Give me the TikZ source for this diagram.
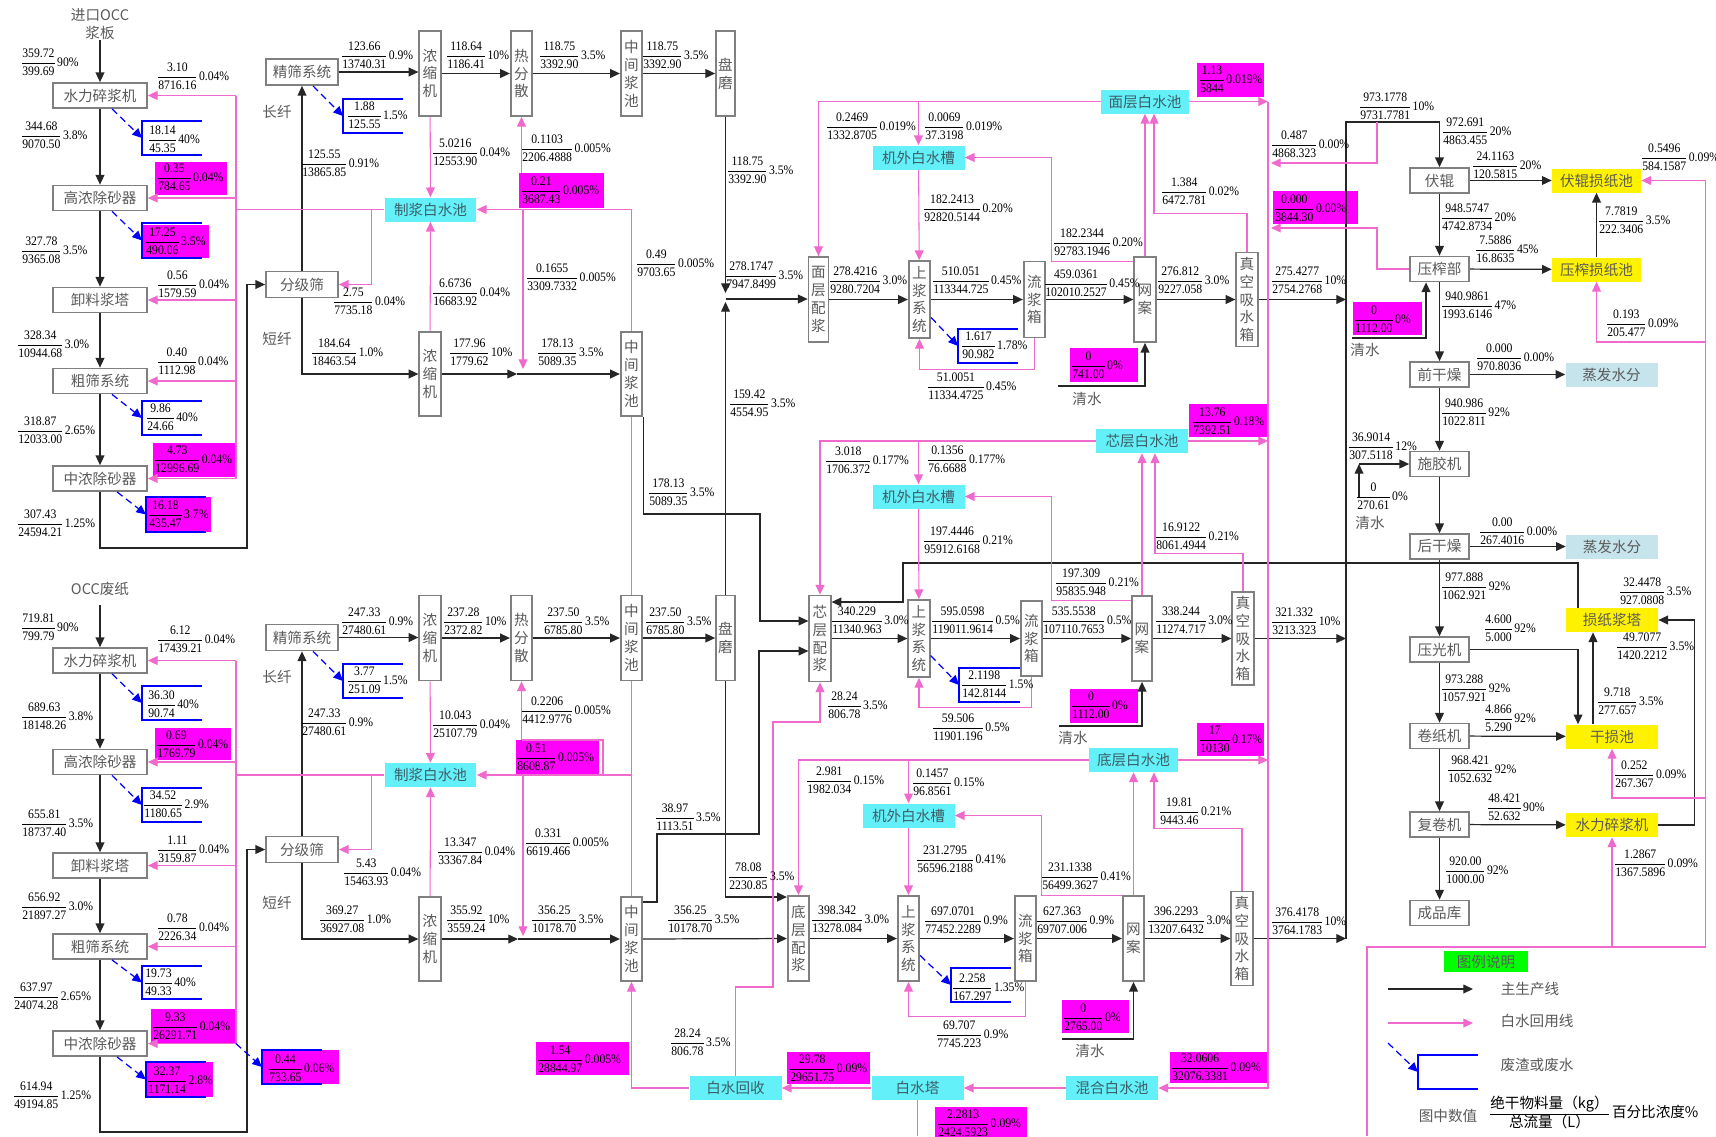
\documentclass[tikz,border=0pt]{standalone}
\usepackage{fontspec}
\setmainfont{Liberation Serif}
\newfontfamily\numfont[FakeStretch=0.9]{Liberation Serif}
\newfontfamily\cjkfont{Noto Sans CJK SC}
\usetikzlibrary{arrows.meta,calc}
\setlength{\arrayrulewidth}{0.5pt}
\definecolor{boxgray}{RGB}{128,128,128}
\definecolor{txtgray}{RGB}{90,90,90}
\definecolor{pooltxt}{RGB}{60,95,105}
\definecolor{poolcyan}{RGB}{100,240,248}
\definecolor{wpink}{RGB}{240,105,205}
\definecolor{wastemag}{RGB}{255,0,255}
\definecolor{evapblue}{RGB}{198,228,236}
\definecolor{lggreen}{RGB}{0,255,0}
\newcommand{\zh}{\cjkfont\fontsize{8.3}{10.2}\selectfont}
\newcounter{fcnt}
% 分数标注：位置、绝干物料量、总流量、浓度
\newcommand{\frl}[4]{\stepcounter{fcnt}%
  \node[frac] (fr\thefcnt) at (#1) {\begin{tabular}{@{}c@{}}#2\\\hline #3\end{tabular}\hspace{1.5pt}#4\%};}
\newcommand{\magbox}[2]{\fill[wastemag] (#1) rectangle (#2);}
\newcommand{\wbox}[5]{%
  \draw[wastebox] (#4,#3) -- (#2,#3) -- (#2,#5) -- (#4,#5);
  \coordinate (#1) at (#2,{(#3+#5)/2});}
\tikzset{
  basebox/.style={draw=boxgray, line width=1pt, fill=white, inner sep=0pt, font=\zh, text=txtgray},
  procbox/.style={basebox, minimum width=1.88cm, minimum height=0.5cm},
  sproc/.style={basebox, minimum width=1.44cm, minimum height=0.52cm},
  rproc/.style={basebox, minimum width=1.18cm, minimum height=0.5cm},
  vproc/.style={basebox, minimum width=0.43cm, align=center},
  pool/.style={fill=poolcyan, inner sep=0pt, minimum width=1.84cm, minimum height=0.48cm, font=\zh, text=pooltxt},
  szpool/.style={pool, fill=yellow, text=txtgray},
  evap/.style={pool, fill=evapblue, text=txtgray},
  lgbox/.style={fill=lggreen, inner sep=0pt, minimum width=1.68cm, minimum height=0.42cm, font=\zh, text=txtgray},
  txt/.style={inner sep=0pt, font=\zh, text=txtgray},
  frac/.style={anchor=west, inner sep=0pt, font=\numfont\fontsize{7.4}{9.6}\selectfont},
  main/.style={draw=black!85, line width=0.7pt, -{Triangle[length=5.5pt,width=5pt]}},
  wline/.style={draw=wpink, line width=0.6pt, -{Triangle[length=5.5pt,width=5pt]}},
  wasteline/.style={draw=blue, line width=0.7pt, dash pattern=on 4pt off 2.5pt, -{Triangle[length=5.5pt,width=5pt]}},
  wastebox/.style={draw=blue, line width=1.1pt},
}

\begin{document}
\begin{tikzpicture}[x=0.02cm, y=-0.02cm]
  \useasboundingbox (0,0) rectangle (1716,1136);
  \fill[white] (0,0) rectangle (1716,1136);

  % ---------------- 品红底色 ----------------
  \magbox{155,162}{227,195}
  \magbox{142,225}{209,258}
  \magbox{153,443}{237,477}
  \magbox{146,497}{211,532}
  \magbox{519,173}{604,208}
  \magbox{1197,63}{1264,97}
  \magbox{1273,191}{1358,224}
  \magbox{1353,302}{1422,335}
  \magbox{1070,348}{1138,382}
  \magbox{1189,404}{1267,437}
  \magbox{1070,689}{1138,723}
  \magbox{1197,723}{1264,756}
  \magbox{155,728}{231,760}
  \magbox{516,740}{599,774}
  \magbox{151,1009}{235,1043}
  \magbox{146,1062}{213,1097}
  \magbox{262,1050}{339,1084}
  \magbox{536,1042}{629,1075}
  \magbox{787,1052}{870,1084}
  \magbox{1062,1000}{1129,1033}
  \magbox{1170,1052}{1267,1083}
  \magbox{935,1107}{1027,1140}

  % ---------------- 制浆线一 ----------------
  \node[txt, align=center] (src1) at (100,24) {进口OCC\\浆板};
  \node[procbox] (slj1) at (100,95.5) {水力碎浆机};
  \node[procbox] (gn1) at (100,198) {高浓除砂器};
  \node[procbox] (xl1) at (100,300) {卸料浆塔};
  \node[procbox] (cs1) at (100,381) {粗筛系统};
  \node[procbox] (zn1) at (100,478.5) {中浓除砂器};
  \node[sproc] (jsx1) at (302,72) {精筛系统};
  \node[sproc] (fjs1) at (302,284.5) {分级筛};
  \node[txt] (cx1) at (277,112) {长纤};
  \node[txt] (dx1) at (277,339) {短纤};
  \node[vproc, minimum height=1.7cm] (nsj1a) at (430,73.5) {浓\\缩\\机};
  \node[vproc, minimum height=1.7cm] (rfs1) at (521.5,73.5) {热\\分\\散};
  \node[vproc, minimum height=1.7cm] (zjc1a) at (631.5,73.5) {中\\间\\浆\\池};
  \node[vproc, minimum height=1.7cm, minimum width=0.38cm] (pm1) at (725.5,73.5) {盘\\磨};
  \node[vproc, minimum height=1.68cm] (nsj1b) at (430,374) {浓\\缩\\机};
  \node[vproc, minimum height=1.68cm] (zjc1b) at (631.5,374) {中\\间\\浆\\池};
  \node[pool] (zjb1) at (430.5,209.5) {制浆白水池};

  % ---------------- 制浆线二 ----------------
  \node[txt] (src2) at (100,589) {OCC废纸};
  \node[procbox] (slj2) at (100,660.5) {水力碎浆机};
  \node[procbox] (gn2) at (100,762) {高浓除砂器};
  \node[procbox] (xl2) at (100,865.5) {卸料浆塔};
  \node[procbox] (cs2) at (100,946.5) {粗筛系统};
  \node[procbox] (zn2) at (100,1043.5) {中浓除砂器};
  \node[sproc] (jsx2) at (302,637.5) {精筛系统};
  \node[sproc] (fjs2) at (302,849.5) {分级筛};
  \node[txt] (cx2) at (277,677) {长纤};
  \node[txt] (dx2) at (277,903) {短纤};
  \node[vproc, minimum height=1.7cm] (nsj2a) at (430,638) {浓\\缩\\机};
  \node[vproc, minimum height=1.7cm] (rfs2) at (521.5,638) {热\\分\\散};
  \node[vproc, minimum height=1.7cm] (zjc2a) at (631.5,638) {中\\间\\浆\\池};
  \node[vproc, minimum height=1.7cm, minimum width=0.38cm] (pm2) at (725.5,638) {盘\\磨};
  \node[vproc, minimum height=1.68cm] (nsj2b) at (430,939) {浓\\缩\\机};
  \node[vproc, minimum height=1.68cm] (zjc2b) at (631.5,939) {中\\间\\浆\\池};
  \node[pool] (zjb2) at (430.5,775) {制浆白水池};

  % ---------------- 抄造三层 ----------------
  \node[vproc, minimum height=1.7cm, minimum width=0.4cm] (mcp) at (818.5,299.5) {面\\层\\配\\浆};
  \node[vproc, minimum height=1.54cm] (sj1) at (919.5,299.5) {上\\浆\\系\\统};
  \node[vproc, minimum height=1.52cm] (lj1) at (1034.5,299.5) {流\\浆\\箱};
  \node[vproc, minimum height=1.7cm] (wa1) at (1145,299.5) {网\\案};
  \node[vproc, minimum height=1.88cm] (zk1) at (1247,299.5) {真\\空\\吸\\水\\箱};
  \node[pool, minimum width=1.76cm] (mbc) at (1145,101.5) {面层白水池};
  \node[pool] (jwc1) at (918.5,157.5) {机外白水槽};

  \node[vproc, minimum height=1.72cm] (xcp) at (820,638.5) {芯\\层\\配\\浆};
  \node[vproc, minimum height=1.54cm] (sj2) at (919,638.5) {上\\浆\\系\\统};
  \node[vproc, minimum height=1.5cm] (lj2) at (1031.5,638.5) {流\\浆\\箱};
  \node[vproc, minimum height=1.7cm, minimum width=0.4cm] (wa2) at (1142,638.5) {网\\案};
  \node[vproc, minimum height=1.86cm] (zk2) at (1243,638.5) {真\\空\\吸\\水\\箱};
  \node[pool] (xbc) at (1142,441) {芯层白水池};
  \node[pool] (jwc2) at (918.5,496.5) {机外白水槽};

  \node[vproc, minimum height=1.7cm] (dcp) at (798.5,938.5) {底\\层\\配\\浆};
  \node[vproc, minimum height=1.7cm] (sj3) at (908.5,938.5) {上\\浆\\系\\统};
  \node[vproc, minimum height=1.7cm] (lj3) at (1025.5,938.5) {流\\浆\\箱};
  \node[vproc, minimum height=1.7cm] (wa3) at (1133.5,938.5) {网\\案};
  \node[vproc, minimum height=1.88cm] (zk3) at (1242,938.5) {真\\空\\吸\\水\\箱};
  \node[pool, minimum width=1.78cm] (dbc) at (1133.5,760) {底层白水池};
  \node[pool] (jwc3) at (908.5,815.5) {机外白水槽};

  \node[pool] (hhc) at (1112,1088) {混合白水池};
  \node[pool] (bst) at (917.5,1088) {白水塔};
  \node[pool] (bsh) at (735.5,1088) {白水回收};

  % ---------------- 压榨干燥 ----------------
  \node[rproc] (fg) at (1439.5,180.5) {伏辊};
  \node[rproc] (yzb) at (1439.5,269) {压榨部};
  \node[rproc] (qgz) at (1439.5,374.5) {前干燥};
  \node[rproc] (sjj) at (1439.5,464) {施胶机};
  \node[rproc] (hgz) at (1439.5,546.5) {后干燥};
  \node[rproc] (ygj) at (1439.5,649.5) {压光机};
  \node[rproc] (jzj) at (1439.5,736) {卷纸机};
  \node[rproc] (fjj) at (1439.5,824.5) {复卷机};
  \node[rproc] (cpk) at (1439.5,913) {成品库};
  \node[szpool, minimum width=1.78cm] (fgs) at (1596.5,180.5) {伏辊损纸池};
  \node[szpool, minimum width=1.78cm] (yzs) at (1596.5,269.5) {压榨损纸池};
  \node[szpool] (szj) at (1612,620) {损纸浆塔};
  \node[szpool] (gsc) at (1612,736.5) {干损池};
  \node[szpool] (slj3) at (1612,825) {水力碎浆机};
  \node[evap] (zf1) at (1611.5,374.5) {蒸发水分};
  \node[evap] (zf2) at (1612,546.5) {蒸发水分};
  \node[txt] (qs1) at (1087,399) {清水};
  \node[txt] (qs2) at (1073,738) {清水};
  \node[txt] (qs3) at (1090,1051) {清水};
  \node[txt] (qs4) at (1365,350) {清水};
  \node[txt] (qs5) at (1370,523) {清水};

  % ---------------- 主生产线 ----------------
  \draw[main] (src1.south) -- (slj1.north);
  \draw[main] (slj1) -- (gn1);
  \draw[main] (gn1) -- (xl1);
  \draw[main] (xl1) -- (cs1);
  \draw[main] (cs1) -- (zn1);
  \coordinate (lp1) at (247,548);
  \draw[main] (zn1.south) |- (lp1) |- (fjs1.west);
  \draw[main] (fjs1) -- (jsx1);
  \draw[main] (jsx1.east) -- (jsx1.east -| nsj1a.west);
  \draw[main] (fjs1.south) |- (nsj1b.west);
  \draw[main] (nsj1a) -- (rfs1);
  \draw[main] (rfs1) -- (zjc1a);
  \draw[main] (zjc1a) -- (pm1);
  \coordinate (mix1) at (517,374);
  \draw[main] (nsj1b) -- (mix1);
  \draw[main] (mix1) -- (zjc1b);

  \draw[main] ($(src2.south)+(0,9)$) -- (slj2.north);
  \draw[main] (slj2) -- (gn2);
  \draw[main] (gn2) -- (xl2);
  \draw[main] (xl2) -- (cs2);
  \draw[main] (cs2) -- (zn2);
  \coordinate (lp2) at (247,1132);
  \draw[main] (zn2.south) |- (lp2) |- (fjs2.west);
  \draw[main] (fjs2) -- (jsx2);
  \draw[main] (jsx2.east) -- (jsx2.east -| nsj2a.west);
  \draw[main] (fjs2.south) |- (nsj2b.west);
  \draw[main] (nsj2a) -- (rfs2);
  \draw[main] (rfs2) -- (zjc2a);
  \draw[main] (zjc2a) -- (pm2);
  \coordinate (mix2) at (518,939);
  \draw[main] (nsj2b) -- (mix2);
  \draw[main] (mix2) -- (zjc2b);

  \coordinate (pmj) at (725.5,299);
  \draw[main] (pm1) -- ($(pmj)+(0,-6)$);
  \draw[main] (pm2) -- ($(pmj)+(0,3)$);
  \draw[main] (pmj) -- (pmj -| mcp.west);
  \coordinate (k1) at (760,514);
  \draw[main] (zjc1b.south east) |- (k1) |- ($(xcp.west)+(0,-17.5)$);
  \coordinate (k2) at (657,834);
  \coordinate (k3) at (759,651);
  \draw[main] ($(zjc2b.east)+(0,-37)$) -| (k2) -| (k3) -- (k3 -| xcp.west);
  \draw[main] (pm2.south) |- ($(dcp.west)+(0,-41.5)$);
  \draw[main] (zjc2b) -- (dcp);

  \draw[main] (mcp) -- (sj1);
  \draw[main] (sj1) -- (lj1);
  \draw[main] (lj1) -- (wa1);
  \draw[main] (wa1) -- (zk1);
  \draw[main] (xcp) -- (sj2);
  \draw[main] (sj2) -- (lj2);
  \draw[main] (lj2) -- (wa2);
  \draw[main] (wa2) -- (zk2);
  \draw[main] (dcp) -- (sj3);
  \draw[main] (sj3) -- (lj3);
  \draw[main] (lj3) -- (wa3);
  \draw[main] (wa3) -- (zk3);

  \coordinate (trunkb) at (1346,939);
  \coordinate (trunkt) at (1346,122);
  \draw[main] (zk1.east) -- (zk1.east -| trunkt);
  \draw[main] (zk2.east) -- (zk2.east -| trunkt);
  \draw[main] (zk3.east) -- (zk3.east -| trunkt);
  \draw[main] (trunkb) -- (trunkt) -| (fg.north);
  \coordinate (qw1) at (1058,386);
  \draw[main] (qw1) -| (wa1.south);
  \coordinate (qw2) at (1059,726);
  \draw[main] (qw2) -| (wa2.south);
  \coordinate (qw3) at (1062,1039);
  \draw[main] (qw3) -| (wa3.south);

  \draw[main] (fg) -- (fgs);
  \draw[main] (fg) -- (yzb);
  \draw[main] (yzb) -- (yzs);
  \draw[main] (yzs) -- (fgs);
  \draw[main] (yzb) -- (qgz);
  \draw[main] (qgz) -- (zf1);
  \draw[main] (qgz) -- (sjj);
  \draw[main] (sjj) -- (hgz);
  \draw[main] (hgz) -- (zf2);
  \draw[main] (hgz) -- (ygj);
  \draw[main] (ygj) -- (jzj);
  \draw[main] (jzj) -- (fjj);
  \draw[main] (fjj) -- (cpk);
  \draw[main] (jzj) -- (gsc);
  \draw[main] (fjj) -- (slj3);
  \coordinate (qs4a) at (1352,338);
  \draw[main] (qs4a) -| ($(yzb.south)+(-13.5,0)$);
  \coordinate (qs5a) at (1359,497);
  \draw[main] (qs5a) -- (qs5a |- sjj.west);
  \draw[main] (qs5a |- sjj.west) -- (sjj.west);
  \draw[main] (ygj.east) -| ($(gsc.north)+(-34,0)$);
  \draw[main] ($(gsc.north)+(-19,0)$) -- ($(szj.south)+(-19,0)$);
  \draw[main] (slj3.east) -| ($(szj.east)+(36,0)$) -- (szj.east);
  \coordinate (sb1) at (903,563);
  \draw[main] ($(szj.north)+(-34,0)$) |- (sb1) |- ($(xcp.east)+(0,-36.5)$);

  % ---------------- 白水回用线 ----------------
  \coordinate (pl1) at (236,209.5);
  \draw[wline,-] (zjb1.west) -- (pl1);
  \draw[wline,-] (slj1.east -| pl1) -- (zn1.east -| pl1);
  \foreach \n in {slj1,gn1,xl1,cs1,zn1} \draw[wline] (\n.east -| pl1) -- (\n.east);
  \draw[wline] ($(zjb1.west)+(-13,0)$) |- (fjs1.east);
  \draw[wline] (nsj1a) -- (zjb1);
  \draw[wline] (nsj1b) -- (zjb1);
  \coordinate (m5t) at (521.5,173);
  \draw[wline] (m5t) -- (rfs1.south);
  \coordinate (m5b) at (523,209.5);
  \draw[wline] (m5b) -- ($(mix1)+(6,-5)$);
  \draw[wline] (zjc1b.north) |- (zjb1.east);
  \draw[wline,-] (zjc1b.south) -- (zjc2a.north);
  \draw[wline] (zjc2a.south) |- (zjb2.east);
  \draw[wline,-] (zjc2a.south) -- (zjc2b.north);

  \coordinate (pl2) at (236,775);
  \draw[wline,-] (zjb2.west) -- (pl2);
  \draw[wline,-] (slj2.east -| pl2) -- (zn2.east -| pl2);
  \foreach \n in {slj2,gn2,xl2,cs2,zn2} \draw[wline] (\n.east -| pl2) -- (\n.east);
  \draw[wline] ($(zjb2.west)+(-13,0)$) |- (fjs2.east);
  \draw[wline] (nsj2a) -- (zjb2);
  \draw[wline] (nsj2b) -- (zjb2);
  \coordinate (m14t) at (521.5,740);
  \coordinate (m14r) at (603,774);
  \draw[wline] (m14t) -- (rfs2.south);
  \draw[wline,-] (m14t) -| (m14r);
  \coordinate (m14b) at (523,774);
  \draw[wline] (m14b) -- ($(mix2)+(5,-3)$);

  \coordinate (pv) at (1268,1088);
  \draw[wline] (mbc.west) -| (mcp.north);
  \draw[wline] (jwc1.north |- mbc.west) -- (jwc1.north);
  \draw[wline] (mbc.east) -- (mbc.east -| pv);
  \draw[wline] (mbc.east -| pv) -- (pv) -- (hhc.east);
  \draw[wline] (wa1) -- (mbc);
  \draw[wline] (zk1.north) |- ($(mbc.south)+(9,100)$) -- ($(mbc.south)+(9,0)$);
  \draw[wline] ($(wa1.north west)+(0,5)$) -| ($(jwc1.east)+(87,0)$) -- (jwc1.east);
  \draw[wline] (jwc1) -- (sj1);
  \draw[wline] (lj1.south) -- ++(0,31) -| (sj1.south);

  \draw[wline] (xbc.west) -| (xcp.north);
  \draw[wline] (jwc2.north |- xbc.west) -- (jwc2.north);
  \draw[wline] (xbc.east) -- (xbc.east -| pv);
  \draw[wline] (wa2) -- (xbc);
  \draw[wline] (zk2.north) |- ($(xbc.south)+(13,100)$) -- ($(xbc.south)+(13,0)$);
  \draw[wline] ($(wa2.north west)+(0,5)$) -| ($(jwc2.east)+(87,0)$) -- (jwc2.east);
  \draw[wline] (jwc2) -- (sj2);
  \draw[wline] (lj2.south) -- ++(0,31) -| (sj2.south);

  \draw[wline] (dbc.west) -| (dcp.north);
  \draw[wline] (jwc3.north |- dbc.west) -- (jwc3.north);
  \draw[wline] (dbc.east) -- (dbc.east -| pv);
  \draw[wline] (wa3) -- (dbc);
  \draw[wline] (zk3.north) |- ($(dbc.south)+(20.5,56)$) -- ($(dbc.south)+(20.5,0)$);
  \draw[wline] (wa3.north west) -| ($(jwc3.east)+(87,0)$) -- (jwc3.east);
  \draw[wline] (jwc3) -- (sj3);
  \draw[wline] (lj3.south) -- ++(0,35) -| (sj3.south);

  \draw[wline] (hhc) -- (bst);
  \draw[wline] (bst) -- (bsh);
  \coordinate (bot1) at (917.5,1136);
  \draw[wline,-] (bst.south) -- (bot1);
  \coordinate (w1) at (773,987);
  \coordinate (w2) at (773,722);
  \draw[wline] (bsh.north) |- (w1) -- (w2) -| (xcp.south);
  \draw[wline] (bsh.west) -| (zjc2b.south);

  \coordinate (j1) at (1377,122);
  \coordinate (j1b) at (1271,163);
  \draw[wline] (j1) |- (j1b);
  \coordinate (j2) at (1377,228);
  \draw[wline] (yzb.west) -| (j2) -- (j2 -| j1b);
  \coordinate (pr1) at (1367,1136);
  \coordinate (pr2) at (1705,947);
  \draw[wline] (pr1) |- (pr2) |- (fgs.east);
  \coordinate (pr3) at (1705,342);
  \draw[wline] (pr3) -| (yzs.south);
  \coordinate (pr4) at (1705,798);
  \draw[wline] (pr4) -| (gsc.south);
  \draw[wline] (slj3.south |- pr2) -- (slj3.south);

  % ---------------- 废渣或废水 ----------------
  \wbox{wb1}{142}{121}{202}{155}
  \wbox{wb2}{142}{223}{202}{258}
  \wbox{wb3}{142}{401}{202}{435}
  \wbox{wb4}{146}{497}{206}{532}
  \wbox{wb5}{343}{99}{403}{133}
  \wbox{wb6}{142}{686}{202}{720}
  \wbox{wb7}{142}{788}{202}{822}
  \wbox{wb8}{142}{966}{202}{999}
  \wbox{wb9}{958}{329}{1018}{363}
  \wbox{wb10}{959}{668}{1020}{702}
  \wbox{wb11}{951}{968}{1011}{1002}
  \wbox{wb12}{146}{1062}{206}{1097}
  \wbox{wb13}{262}{1050}{322}{1084}
  \wbox{wb14}{343}{664}{403}{698}
  \draw[wasteline] ($(slj1.south)+(12,0)$) -- (wb1);
  \draw[wasteline] ($(gn1.south)+(12,0)$) -- (wb2);
  \draw[wasteline] ($(cs1.south)+(12,0)$) -- (wb3);
  \draw[wasteline] ($(zn1.south)+(17,0)$) -- (wb4);
  \draw[wasteline] ($(jsx1.south)+(11,0)$) -- (wb5);
  \draw[wasteline] ($(slj2.south)+(12,0)$) -- (wb6);
  \draw[wasteline] ($(gn2.south)+(12,0)$) -- (wb7);
  \draw[wasteline] ($(cs2.south)+(12,0)$) -- (wb8);
  \draw[wasteline] ($(sj1.east)+(0,18)$) -- (wb9);
  \draw[wasteline] ($(sj2.east)+(0,17)$) -- (wb10);
  \draw[wasteline] ($(sj3.east)+(0,17)$) -- (wb11);
  \draw[wasteline] ($(zn2.south)+(17,0)$) -- (wb12);
  \draw[wasteline] ($(zn2.east)+(88,0)$) -- (wb13);
  \draw[wasteline] ($(jsx2.south)+(11,0)$) -- (wb14);

  % ---------------- 数值 ----------------
  \frl{22,63}{359.72}{399.69}{90}
  \frl{158,77}{3.10}{8716.16}{0.04}
  \frl{22,136}{344.68}{9070.50}{3.8}
  \frl{149,140}{18.14}{45.35}{40}
  \frl{158,178}{0.35}{784.65}{0.04}
  \frl{22,251}{327.78}{9365.08}{3.5}
  \frl{146,242}{17.25}{490.06}{3.5}
  \frl{158,285}{0.56}{1579.59}{0.04}
  \frl{18,345}{328.34}{10944.68}{3.0}
  \frl{158,362}{0.40}{1112.98}{0.04}
  \frl{147,418}{9.86}{24.66}{40}
  \frl{18,431}{318.87}{12033.00}{2.65}
  \frl{155,460}{4.73}{12996.69}{0.04}
  \frl{149,515}{16.18}{435.47}{3.7}
  \frl{18,524}{307.43}{24594.21}{1.25}
  \frl{342,56}{123.66}{13740.31}{0.9}
  \frl{348,116}{1.88}{125.55}{1.5}
  \frl{302,164}{125.55}{13865.85}{0.91}
  \frl{334,302}{2.75}{7735.18}{0.04}
  \frl{312,353}{184.64}{18463.54}{1.0}
  \frl{447,56}{118.64}{1186.41}{10}
  \frl{540,56}{118.75}{3392.90}{3.5}
  \frl{643,56}{118.75}{3392.90}{3.5}
  \frl{433,153}{5.0216}{12553.90}{0.04}
  \frl{522,149}{0.1103}{2206.4888}{0.005}
  \frl{522,191}{0.21}{3687.43}{0.005}
  \frl{637,264}{0.49}{9703.65}{0.005}
  \frl{527,278}{0.1655}{3309.7332}{0.005}
  \frl{433,293}{6.6736}{16683.92}{0.04}
  \frl{450,353}{177.96}{1779.62}{10}
  \frl{538,353}{178.13}{5089.35}{3.5}
  \frl{728,171}{118.75}{3392.90}{3.5}
  \frl{726,276}{278.1747}{7947.8499}{3.5}
  \frl{730,404}{159.42}{4554.95}{3.5}
  \frl{649,493}{178.13}{5089.35}{3.5}

  \frl{827,127}{0.2469}{1332.8705}{0.019}
  \frl{925,127}{0.0069}{37.3198}{0.019}
  \frl{1200,80}{1.13}{5844}{0.019}
  \frl{924,209}{182.2413}{92820.5144}{0.20}
  \frl{1054,243}{182.2344}{92783.1946}{0.20}
  \frl{1162,192}{1.384}{6472.781}{0.02}
  \frl{830,281}{278.4216}{9280.7204}{3.0}
  \frl{933,281}{510.051}{113344.725}{0.45}
  \frl{1045,284}{459.0361}{102010.2527}{0.45}
  \frl{1158,281}{276.812}{9227.058}{3.0}
  \frl{962,346}{1.617}{90.982}{1.78}
  \frl{928,387}{51.0051}{11334.4725}{0.45}
  \frl{1072,366}{0}{741.00}{0}
  \frl{1272,145}{0.487}{4868.323}{0.00}
  \frl{1275,209}{0.000}{3844.30}{0.00}
  \frl{1272,281}{275.4277}{2754.2768}{10}
  \frl{1355,320}{0}{1112.00}{0}

  \frl{1360,107}{973.1778}{9731.7781}{10}
  \frl{1443,132}{972.691}{4863.455}{20}
  \frl{1473,166}{24.1163}{120.5815}{20}
  \frl{1642,158}{0.5496}{584.1587}{0.09}
  \frl{1442,218}{948.5747}{4742.8734}{20}
  \frl{1476,250}{7.5886}{16.8635}{45}
  \frl{1599,221}{7.7819}{222.3406}{3.5}
  \frl{1442,306}{940.9861}{1993.6146}{47}
  \frl{1477,358}{0.000}{970.8036}{0.00}
  \frl{1607,324}{0.193}{205.477}{0.09}
  \frl{1442,413}{940.986}{1022.811}{92}
  \frl{1349,447}{36.9014}{307.5118}{12}
  \frl{1357,497}{0}{270.61}{0}
  \frl{1480,532}{0.00}{267.4016}{0.00}
  \frl{1442,587}{977.888}{1062.921}{92}
  \frl{1620,592}{32.4478}{927.0808}{3.5}
  \frl{1485,629}{4.600}{5.000}{92}
  \frl{1617,647}{49.7077}{1420.2212}{3.5}
  \frl{1442,689}{973.288}{1057.921}{92}
  \frl{1485,719}{4.866}{5.290}{92}
  \frl{1598,702}{9.718}{277.657}{3.5}
  \frl{1448,770}{968.421}{1052.632}{92}
  \frl{1615,775}{0.252}{267.367}{0.09}
  \frl{1488,808}{48.421}{52.632}{90}
  \frl{1615,864}{1.2867}{1367.5896}{0.09}
  \frl{1446,871}{920.00}{1000.00}{92}
  \frl{1272,922}{376.4178}{3764.1783}{10}
  \frl{1272,622}{321.332}{3213.323}{10}

  \frl{1193,422}{13.76}{7392.51}{0.18}
  \frl{826,461}{3.018}{1706.372}{0.177}
  \frl{928,460}{0.1356}{76.6688}{0.177}
  \frl{924,541}{197.4446}{95912.6168}{0.21}
  \frl{1056,583}{197.309}{95835.948}{0.21}
  \frl{1156,537}{16.9122}{8061.4944}{0.21}
  \frl{832,621}{340.229}{11340.963}{3.0}
  \frl{932,621}{595.0598}{119011.9614}{0.5}
  \frl{1043,621}{535.5538}{107110.7653}{0.5}
  \frl{1156,621}{338.244}{11274.717}{3.0}
  \frl{962,685}{2.1198}{142.8144}{1.5}
  \frl{828,706}{28.24}{806.78}{3.5}
  \frl{933,728}{59.506}{11901.196}{0.5}
  \frl{1072,706}{0}{1112.00}{0}
  \frl{1200,740}{17}{10130}{0.17}

  \frl{807,781}{2.981}{1982.034}{0.15}
  \frl{913,783}{0.1457}{96.8561}{0.15}
  \frl{1160,812}{19.81}{9443.46}{0.21}
  \frl{917,860}{231.2795}{56596.2188}{0.41}
  \frl{1042,877}{231.1338}{56499.3627}{0.41}
  \frl{812,920}{398.342}{13278.084}{3.0}
  \frl{925,921}{697.0701}{77452.2289}{0.9}
  \frl{1037,921}{627.363}{69707.006}{0.9}
  \frl{1148,921}{396.2293}{13207.6432}{3.0}
  \frl{953,988}{2.258}{167.297}{1.35}
  \frl{937,1035}{69.707}{7745.223}{0.9}
  \frl{1064,1018}{0}{2765.00}{0}
  \frl{1172,1068}{32.0606}{32076.3381}{0.09}
  \frl{790,1069}{29.78}{29651.75}{0.09}
  \frl{938,1124}{2.2813}{2424.5923}{0.09}

  \frl{342,622}{247.33}{27480.61}{0.9}
  \frl{348,681}{3.77}{251.09}{1.5}
  \frl{302,723}{247.33}{27480.61}{0.9}
  \frl{344,873}{5.43}{15463.93}{0.04}
  \frl{320,920}{369.27}{36927.08}{1.0}
  \frl{444,622}{237.28}{2372.82}{10}
  \frl{544,622}{237.50}{6785.80}{3.5}
  \frl{646,622}{237.50}{6785.80}{3.5}
  \frl{433,725}{10.043}{25107.79}{0.04}
  \frl{522,711}{0.2206}{4412.9776}{0.005}
  \frl{517,758}{0.51}{8608.87}{0.005}
  \frl{438,852}{13.347}{33367.84}{0.04}
  \frl{526,843}{0.331}{6619.466}{0.005}
  \frl{447,920}{355.92}{3559.24}{10}
  \frl{532,920}{356.25}{10178.70}{3.5}
  \frl{668,920}{356.25}{10178.70}{3.5}
  \frl{656,818}{38.97}{1113.51}{3.5}
  \frl{729,877}{78.08}{2230.85}{3.5}
  \frl{538,1060}{1.54}{28844.97}{0.005}
  \frl{671,1043}{28.24}{806.78}{3.5}

  \frl{22,628}{719.81}{799.79}{90}
  \frl{158,640}{6.12}{17439.21}{0.04}
  \frl{148,705}{36.30}{90.74}{40}
  \frl{22,717}{689.63}{18148.26}{3.8}
  \frl{157,745}{0.69}{1769.79}{0.04}
  \frl{144,805}{34.52}{1180.65}{2.9}
  \frl{22,824}{655.81}{18737.40}{3.5}
  \frl{158,850}{1.11}{3159.87}{0.04}
  \frl{22,907}{656.92}{21897.27}{3.0}
  \frl{158,928}{0.78}{2226.34}{0.04}
  \frl{145,983}{19.73}{49.33}{40}
  \frl{14,997}{637.97}{24074.28}{2.65}
  \frl{153,1027}{9.33}{26291.71}{0.04}
  \frl{148,1081}{32.37}{1171.14}{2.8}
  \frl{269,1069}{0.44}{733.65}{0.06}
  \frl{14,1096}{614.94}{49194.85}{1.25}

  % ---------------- 图例 ----------------
  \node[lgbox] (lgd) at (1486,961.5) {图例说明};
  \coordinate (lga) at (1388,989);
  \coordinate (lgb) at (1473,989);
  \draw[main] (lga) -- (lgb);
  \node[txt] (lgt1) at (1530,989) {主生产线};
  \coordinate (lgc) at (1388,1023);
  \coordinate (lge) at (1473,1023);
  \draw[wline] (lgc) -- (lge);
  \node[txt] (lgt2) at (1537,1021) {白水回用线};
  \wbox{lgw}{1418}{1055}{1478}{1089}
  \coordinate (lgf) at (1388,1043);
  \draw[wasteline] (lgf) -- (lgw);
  \node[txt] (lgt3) at (1537,1065) {废渣或废水};
  \node[txt] (lgt4) at (1448,1116) {图中数值};
  \node[frac, font=\zh] (lgt5) at (1490,1114) {\begin{tabular}{@{}c@{}}绝干物料量（kg）\\\hline 总流量（L）\end{tabular}\hspace{2pt}百分比浓度\%};
\end{tikzpicture}
\end{document}
